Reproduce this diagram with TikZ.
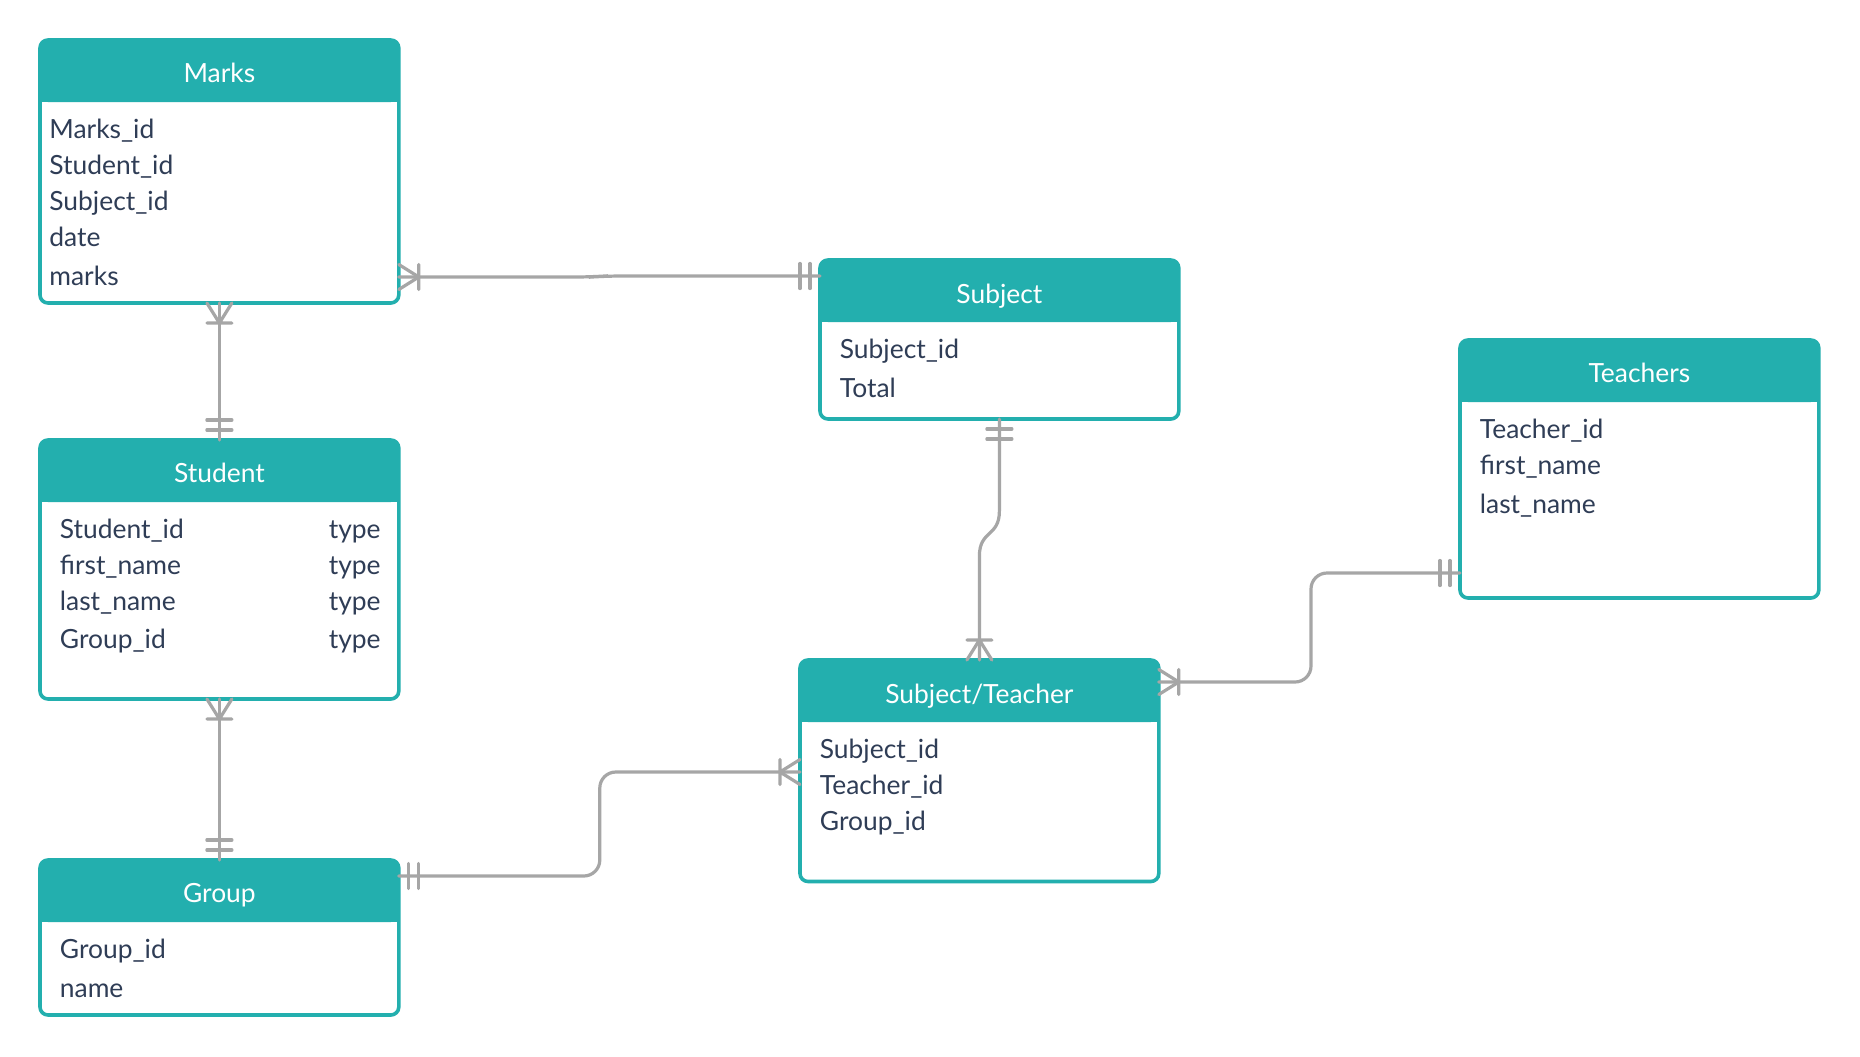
\documentclass[tikz,border=0pt]{standalone}
\usepackage{fontspec}
\setmainfont{Lato}
\usepackage{xcolor}
\definecolor{erTeal}{HTML}{23AFAE}
\definecolor{erLine}{HTML}{A6A6A6}
\definecolor{erText}{HTML}{2F3D56}
\usetikzlibrary{calc}

\begin{document}
\begin{tikzpicture}[x=0.5pt, y=-0.5pt,
  tbl/.style={draw=erTeal, fill=white, line width=1.8pt, rounded corners=4pt, inner sep=0pt, outer sep=0pt, anchor=north west, minimum width=179.4pt},
  ttl/.style={anchor=base, inner sep=0pt, text=white, font=\fontsize{13.2}{16}\selectfont},
  fld/.style={anchor=base west, inner sep=0pt, text=erText, font=\fontsize{13.2}{16}\selectfont},
  typ/.style={fld, anchor=base east},
  conn/.style={draw=erLine, line width=1.6pt, line cap=round, line join=round, rounded corners=8pt},
  many/.pic={\draw[erLine, line width=1.6pt, line cap=round, line join=round] (0,-12.5) -- (20,0) -- (0,12.5) (20,-12.5) -- (20,12.5);},
  one/.pic={\draw[erLine, line width=1.6pt, line cap=round] (10,-12.5) -- (10,12.5) (20,-12.5) -- (20,12.5);}
]
  \useasboundingbox[fill=white] (0,0) rectangle (1860,1056);

  % tables
  \node[tbl, minimum height=131.5pt] (marks) at (40,40) {};
  \node[tbl, minimum height=129.5pt] (student) at (40,440) {};
  \node[tbl, minimum height=77.5pt] (group) at (40,860) {};
  \node[tbl, minimum height=79.5pt] (subject) at (820,260) {};
  \node[tbl, minimum height=129pt] (teachers) at (1460,340) {};
  \node[tbl, minimum height=110.75pt] (subjteach) at (800,660) {};
  \foreach \t in {marks,student,group,subject,teachers,subjteach} {
    \fill[erTeal, rounded corners=4pt] (\t.north west) rectangle ($(\t.north east)+(0,62)$);
    \fill[erTeal] ($(\t.north west)+(0,30)$) rectangle ($(\t.north east)+(0,62)$);
  }

  % titles
  \node[ttl] (marks-t) at (219.4,82) {Marks};
  \node[ttl] (student-t) at (219.4,482) {Student};
  \node[ttl] (group-t) at (219.4,902) {Group};
  \node[ttl] (subject-t) at (999.4,303) {Subject};
  \node[ttl] (teachers-t) at (1639.4,382) {Teachers};
  \node[ttl] (subjteach-t) at (979.4,703) {Subject/Teacher};

  % fields
  \foreach \y/\f [count=\i] in {138/Marks\_id, 174.5/Student\_id, 210/Subject\_id, 246/date, 285/marks}
    \node[fld] (marks-\i) at (49,\y) {\f};
  \foreach \y/\f [count=\i] in {538.5/Student\_id, 574.5/first\_name, 610/last\_name, 648.5/Group\_id} {
    \node[fld] (student-\i) at (59.5,\y) {\f};
    \node[typ] (student-type\i) at (381,\y) {type};
  }
  \foreach \y/\f [count=\i] in {958.5/Group\_id, 997/name}
    \node[fld] (group-\i) at (59.5,\y) {\f};
  \foreach \y/\f [count=\i] in {358.5/Subject\_id, 397/Total}
    \node[fld] (subject-\i) at (839.5,\y) {\f};
  \foreach \y/\f [count=\i] in {438.5/Teacher\_id, 474.5/first\_name, 513.5/last\_name}
    \node[fld] (teachers-\i) at (1479.5,\y) {\f};
  \foreach \y/\f [count=\i] in {758.5/Subject\_id, 794.5/Teacher\_id, 830/Group\_id}
    \node[fld] (subjteach-\i) at (819.5,\y) {\f};

  % relations
  \draw[conn] ($(marks.north east)+(0,237)$) -- ++(193,0) -- ($(subject.north west)+(-215,16)$) -- ($(subject.north west)+(0,16)$);
  \draw[conn] (marks.south) -- (student.north);
  \draw[conn] (student.south) -- (group.north);
  \draw[conn, sharp corners] (subject.south) -- ++(0,92) .. controls +(0,26) and +(0,-26) .. ([yshift=52pt]subjteach.north) -- (subjteach.north);
  \draw[conn] ($(teachers.north west)+(0,233)$) -- ++(-149,0) |- ($(subjteach.north east)+(0,22)$);
  \draw[conn] ($(group.north east)+(0,16)$) -- ++(201,0) |- ($(subjteach.north west)+(0,112)$);

  % cardinality marks
  \pic at ($(marks.north east)+(0,237)$) {many};
  \pic[rotate=180] at ($(subject.north west)+(0,16)$) {one};
  \pic[rotate=-90] at (marks.south) {many};
  \pic[rotate=90] at (student.north) {one};
  \pic[rotate=-90] at (student.south) {many};
  \pic[rotate=90] at (group.north) {one};
  \pic[rotate=-90] at (subject.south) {one};
  \pic[rotate=90] at (subjteach.north) {many};
  \pic[rotate=180] at ($(teachers.north west)+(0,233)$) {one};
  \pic at ($(subjteach.north east)+(0,22)$) {many};
  \pic at ($(group.north east)+(0,16)$) {one};
  \pic[rotate=180] at ($(subjteach.north west)+(0,112)$) {many};
\end{tikzpicture}
\end{document}
